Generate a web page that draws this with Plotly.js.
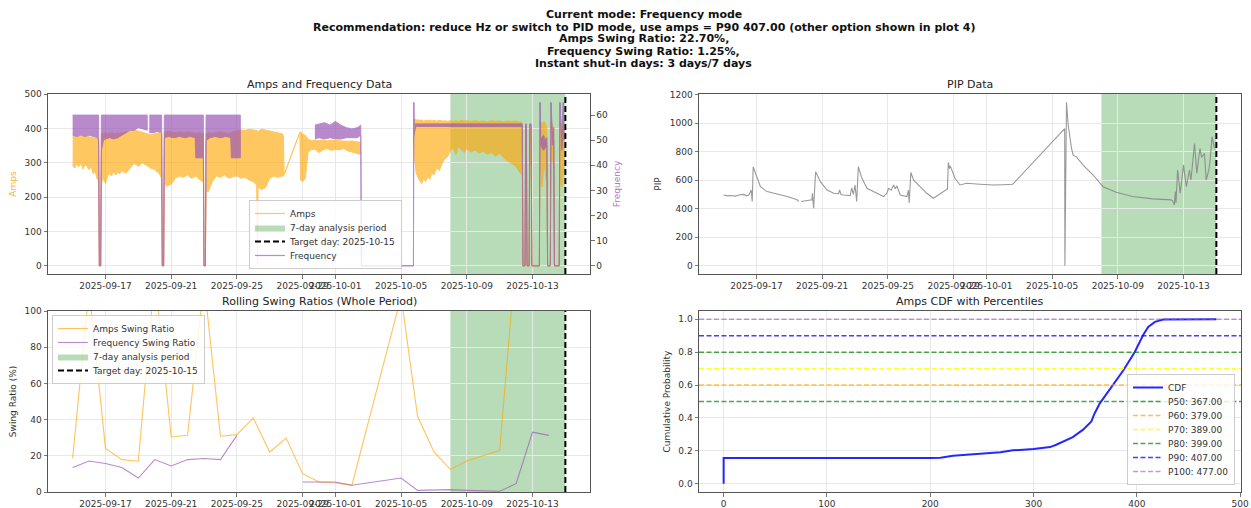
<!DOCTYPE html>
<html><head><meta charset="utf-8">
<script src="https://cdn.plot.ly/plotly-3.0.1.min.js"></script>
<style>html,body{margin:0;padding:0;background:#fff}#chart{width:1251px;height:508px}</style>
</head><body><div id="chart"></div>
<script>
// ---------------- DATA ----------------
const YEAR = '2025';
const titleLines = [
  'Current mode: Frequency mode',
  'Recommendation: reduce Hz or switch to PID mode, use amps = P90 407.00 (other option shown in plot 4)',
  'Amps Swing Ratio: 22.70%,',
  'Frequency Swing Ratio: 1.25%,',
  'Instant shut-in days: 3 days/7 days'
];
const subplotTitles = ['Amps and Frequency Data', 'PIP Data', 'Rolling Swing Ratios (Whole Period)', 'Amps CDF with Percentiles'];
const periodStart = '2025-10-08';
const periodEnd = '2025-10-15';
const targetDay = '2025-10-15';
const dateTickVals = ['2025-09-17','2025-09-21','2025-09-25','2025-09-29','2025-10-01','2025-10-05','2025-10-09','2025-10-13'];

// Amps (dense series read as upper / lower envelope; null = gap)
const ampsTime = ['09-15 00:00','09-15 03:00','09-15 06:00','09-15 09:00','09-15 12:00','09-15 15:00','09-15 18:00','09-15 21:00','09-16 00:00','09-16 03:00','09-16 06:00','09-16 09:00','09-16 12:00','09-16 14:00','09-16 15:00','09-16 17:00','09-16 18:00','09-16 21:00','09-17 00:00','09-17 03:00','09-17 06:00','09-17 09:00','09-17 12:00','09-17 15:00','09-17 18:00','09-17 21:00','09-18 00:00','09-18 06:00','09-18 12:00','09-18 18:00','09-19 00:00','09-19 06:00','09-19 12:00','09-19 18:00','09-20 00:00','09-20 06:00','09-20 10:00','09-20 11:00','09-20 13:00','09-20 14:00','09-20 18:00','09-21 00:00','09-21 06:00','09-21 12:00','09-21 18:00','09-22 00:00','09-22 06:00','09-22 12:00','09-22 18:00','09-22 23:00','09-23 00:00','09-23 02:00','09-23 03:00','09-23 06:00','09-23 12:00','09-23 18:00','09-24 00:00','09-24 06:00','09-24 12:00','09-24 18:00','09-25 00:00','09-25 06:00','09-25 12:00','09-25 18:00','09-26 00:00','09-26 05:00','09-26 06:00','09-26 07:00','09-26 12:00','09-26 18:00','09-27 00:00','09-27 06:00','09-27 12:00','09-27 18:00','09-27 20:00','09-27 21:00','09-28 20:00','09-28 21:00','09-29 00:00','09-29 04:00','09-29 08:00','09-29 12:00','09-29 18:00','09-30 00:00','09-30 06:00','09-30 12:00','09-30 18:00','10-01 00:00','10-01 06:00','10-01 12:00','10-01 18:00','10-02 00:00','10-02 06:00','10-02 12:00',
  null,
  '10-05 18:00','10-05 20:00','10-05 22:00','10-06 00:00','10-06 03:00','10-06 06:00','10-06 09:00','10-06 12:00','10-06 15:00','10-06 18:00','10-06 21:00','10-07 00:00','10-07 04:00','10-07 08:00','10-07 12:00','10-07 16:00','10-07 20:00','10-08 00:00','10-08 04:00','10-08 08:00','10-08 12:00','10-08 16:00','10-08 20:00','10-09 00:00','10-09 06:00','10-09 12:00','10-09 18:00','10-10 00:00','10-10 06:00','10-10 12:00','10-10 18:00','10-11 00:00','10-11 06:00','10-11 12:00','10-11 18:00','10-12 00:00','10-12 04:00','10-12 08:00','10-12 09:00','10-12 10:00','10-12 13:00','10-12 14:00','10-12 15:00','10-12 16:00','10-12 19:00','10-12 20:00','10-12 22:00','10-12 23:00','10-13 10:00','10-13 11:00','10-13 14:00','10-13 17:00','10-13 20:00','10-13 21:00','10-13 22:00','10-14 02:00','10-14 03:00','10-14 05:00','10-14 07:00','10-14 08:00','10-14 15:00','10-14 16:00','10-14 19:00','10-14 22:00'];
const ampsHigh = [376,378,375,377,376,378,375,377,376,375,374,372,370,368,0,0,385,386,388,385,386,388,386,385,388,386,388,390,392,395,393,390,385,382,385,388,385,0,0,390,392,390,388,390,388,390,388,386,388,385,0,0,385,388,386,388,390,388,385,390,392,396,395,398,396,395,390,392,398,395,392,390,388,385,380,265,389,390,385,380,370,365,366,365,367,364,366,365,364,365,363,364,362,360,
  null,
  410,428,425,426,424,425,422,424,423,425,422,424,422,424,422,423,421,423,421,423,421,424,422,423,421,423,421,422,420,423,421,422,420,422,421,422,420,419,415,0,0,410,405,0,0,410,400,0,0,420,415,420,410,400,0,0,420,410,400,0,0,420,410,405];
const ampsLow = [292,285,298,288,300,282,295,290,280,290,268,275,252,262,0,0,240,255,240,262,270,262,275,265,272,268,278,270,285,298,290,300,292,285,280,270,256,0,0,240,232,238,255,262,258,265,255,262,250,245,0,0,220,215,245,262,258,265,255,260,262,255,258,250,245,235,5,230,222,228,255,262,258,262,262,265,389,250,245,255,330,338,340,330,338,342,336,340,338,342,335,332,328,325,
  null,
  380,310,270,265,248,240,255,245,260,252,270,265,285,278,300,312,318,335,345,325,350,338,330,342,332,338,328,335,325,330,320,328,315,305,298,290,275,268,265,0,0,300,290,0,0,300,290,0,0,320,230,300,250,300,0,0,300,320,280,0,0,260,230,300];

// Frequency (upper / lower envelope; null = gap)
const freqTime = ['09-15 00:00','09-15 06:00','09-15 12:00','09-15 18:00','09-16 00:00','09-16 06:00','09-16 12:00','09-16 14:00','09-16 15:00','09-16 17:00','09-16 18:00','09-16 21:00','09-17 00:00','09-17 06:00','09-17 12:00','09-17 18:00','09-18 00:00','09-18 06:00','09-18 12:00','09-18 18:00','09-19 00:00','09-19 06:00','09-19 13:00',
  null,
  '09-19 16:00','09-19 22:00','09-20 04:00','09-20 10:00','09-20 11:00','09-20 13:00','09-20 14:00','09-20 20:00','09-21 04:00','09-21 12:00','09-21 20:00','09-22 04:00','09-22 11:00','09-22 12:00','09-22 23:00','09-23 00:00','09-23 02:00','09-23 03:00','09-23 09:00','09-23 16:00','09-24 00:00','09-24 08:00','09-24 15:00','09-24 16:00','09-25 05:00',
  null,
  '09-29 18:00','09-30 00:00','09-30 08:00','09-30 16:00','10-01 00:00','10-01 08:00','10-01 16:00','10-02 00:00','10-02 08:00','10-02 13:00','10-02 14:00','10-05 18:00','10-05 18:30','10-05 19:00','10-05 21:00','10-12 09:00','10-12 10:00','10-12 13:00','10-12 14:00','10-12 15:00','10-12 16:00','10-12 19:00','10-12 20:00','10-12 22:00','10-12 23:00','10-13 10:00','10-13 11:00','10-13 12:00','10-13 16:00','10-13 19:00','10-13 21:00','10-13 22:00','10-14 02:00','10-14 03:00','10-14 05:00','10-14 07:00','10-14 08:00','10-14 15:00','10-14 16:00','10-14 19:00','10-14 21:00','10-14 22:00'];
const freqHigh = [60,60,60,60,60,60,60,60,0,0,60,60,60,60,60,60,60,60,60,60,60,60,60,
  null,
  60,60,60,60,0,0,60,60,60,60,60,60,60,60,60,0,0,60,60,60,60,60,60,60,60,
  null,
  56,56.5,57,56,57.5,56,55,54.5,55,56,0,0,65,52,56.5,56.5,0,0,56.5,56.5,0,0,56.5,56.5,0,0,65,50,52,50,51,0,0,65,52,55,0,0,65,48,65,52];
const freqLow = [52,51.5,52,51.5,52,51.5,51,50,0,0,46,50,50.5,51,50.5,51,52,53,54,54,55,54.5,54,
  null,
  53,53,53.5,53,0,0,51,51.5,51,51.5,51,51.5,51,43,43,0,0,50,51,51.5,51,51.5,51,43,43,
  null,
  50.5,51,50.5,51,50.5,50.5,51,51,51,52,0,0,65,52,55.5,55.5,0,0,55.5,55.5,0,0,55.5,55.5,0,0,65,48,46,47,48,0,0,65,48,50,0,0,65,46,65,50];

// PIP
const pipTime = ['09-15 00:00','09-15 05:00','09-15 10:00','09-15 17:00','09-16 00:00','09-16 05:30','09-16 09:30','09-16 12:45','09-16 16:20','09-16 17:45','09-16 19:10','09-17 01:00','09-17 05:45','09-17 15:30','09-18 06:15','09-18 21:00','09-19 11:15','09-19 13:40',
  null,
  '09-19 17:15','09-20 02:00','09-20 09:00','09-20 09:40','09-20 11:30','09-20 14:25','09-20 21:20','09-21 07:10','09-21 16:50','09-22 00:00','09-22 01:25','09-22 03:35','09-22 07:10','09-22 16:50','09-22 19:10','09-22 21:35','09-23 00:00','09-23 02:25','09-23 04:50','09-23 10:05','09-23 17:30','09-24 08:00','09-24 17:45','09-24 22:30','09-25 01:00','09-25 04:50','09-25 08:25','09-25 10:50','09-25 13:10','09-25 18:00','09-26 03:50','09-26 06:00','09-26 07:10','09-26 09:35','09-26 13:25','09-26 23:00','09-27 08:50','09-27 18:30','09-28 15:00','09-28 16:20','09-28 18:00','09-28 19:10','09-28 21:10','09-29 02:00','09-29 09:20','09-29 19:10','09-30 14:25','10-01 09:35','10-02 00:00','10-02 14:25','10-05 18:20','10-05 18:40','10-05 21:00','10-05 23:30','10-06 04:20','10-06 06:45','10-06 11:30','10-06 21:20','10-07 12:00','10-08 02:25','10-08 21:35','10-09 21:35','10-11 03:00','10-12 05:45','10-12 08:00','10-12 10:35','10-12 12:00','10-12 13:00','10-12 15:20','10-12 19:10','10-13 00:00','10-13 04:05','10-13 08:40','10-13 10:50','10-13 16:05','10-13 19:25','10-14 00:00','10-14 02:25','10-14 06:40','10-14 09:05','10-14 13:00','10-14 14:25','10-14 17:45','10-14 21:10'];
const pipValues = [496,490,492,488,498,500,490,496,531,450,694,613,554,520,503,485,462,450,
  null,
  450,457,462,508,404,659,589,531,508,505,531,500,496,492,545,500,566,450,694,613,543,508,485,508,543,530,566,540,560,496,485,531,440,654,601,554,508,473,538,724,680,700,671,613,566,578,571,566,568,571,961,0,1146,984,822,775,763,705,636,554,515,485,469,462,455,427,520,440,671,508,705,554,671,601,857,648,822,760,787,601,671,720,903,822];

// Rolling swing ratios (daily)
const swingDates = ['2025-09-15','2025-09-16','2025-09-17','2025-09-18','2025-09-19','2025-09-20','2025-09-21','2025-09-22','2025-09-23','2025-09-24','2025-09-25','2025-09-26','2025-09-27','2025-09-28','2025-09-29','2025-09-30','2025-10-01','2025-10-02','2025-10-05','2025-10-06','2025-10-07','2025-10-08','2025-10-09','2025-10-10','2025-10-11','2025-10-12','2025-10-13','2025-10-14'];
const ampsSwing = [18.6,112,24.1,17.9,17.0,120,30.4,31.3,116,30.8,31.7,40.9,22.1,29.8,10.1,5.5,5.0,3.7,108,41.8,22.1,12.5,17.1,20.0,23.0,131,180,160];
const freqSwing = [13.5,17.1,15.7,13.5,7.7,17.9,14.4,17.9,18.5,17.9,31.3,null,null,null,5.5,5.5,5.5,3.7,7.7,0.9,1.3,1.3,0.9,0.6,0.4,4.6,33.1,31.3];

// Amps CDF
const cdfAmps = [0,0,200,210,222,242,268,280,300,316,322,338,348,356,359,364,371,377,387,398,406,411,417.5,425.6,477];
const cdfProb = [0,0.156,0.157,0.158,0.170,0.178,0.192,0.203,0.211,0.223,0.237,0.284,0.329,0.379,0.426,0.487,0.548,0.598,0.690,0.801,0.903,0.953,0.984,0.998,1.0];
const pctLevels = [0.5,0.6,0.7,0.8,0.9,1.0];
const pctNames = ['P50','P60','P70','P80','P90','P100'];
const pctValues = [367,379,389,399,407,477];

// ---------------- STYLE ----------------
const FONT = 'DejaVu Sans, Liberation Sans, sans-serif';
const pctColors = ['rgba(0,128,0,0.7)','rgba(255,165,0,0.7)','rgba(255,255,0,0.85)','rgba(0,128,0,0.7)','rgba(0,0,255,0.75)','rgba(155,89,182,0.6)'];
const AMPS_C = '#FFA500', FREQ_C = '#9b59b6', SPAN_C = 'rgba(0,128,0,0.28)';
const X_RANGE = ['2025-09-13 12:00', '2025-10-16 12:00'];
const W = 1251, H = 508;
const L = [48/W, 590/W], R = [699/W, 1241/W];
const TOP = [1-274/H, 1-94/H], BOT = [1-492/H, 1-311/H];

const T = s => (s === null ? null : YEAR + '-' + s);

function band(times, hi, lo) {
  const xs = [], ys = [];
  let seg = [];
  const flush = () => {
    if (!seg.length) return;
    if (xs.length) { xs.push(null); ys.push(null); }
    seg.forEach(i => { xs.push(T(times[i])); ys.push(hi[i]); });
    for (let k = seg.length - 1; k >= 0; k--) { const i = seg[k]; xs.push(T(times[i])); ys.push(lo[i]); }
    seg = [];
  };
  times.forEach((t, i) => { if (t === null) flush(); else seg.push(i); });
  flush();
  return {xs, ys};
}

const ampsBand = band(ampsTime, ampsHigh, ampsLow);
const freqBand = band(freqTime, freqHigh, freqLow);

const dummy = (o) => Object.assign({type:'scatter', mode:'lines', x:[null], y:[null], hoverinfo:'skip'}, o);

const data = [
  // top-left
  {type:'scatter', mode:'lines', x:ampsBand.xs, y:ampsBand.ys, fill:'toself', fillcolor:AMPS_C,
   line:{color:AMPS_C, width:1}, opacity:0.62, xaxis:'x', yaxis:'y', showlegend:false, hoverinfo:'skip'},
  {type:'scatter', mode:'lines', x:freqBand.xs, y:freqBand.ys, fill:'toself', fillcolor:FREQ_C,
   line:{color:FREQ_C, width:1}, opacity:0.7, xaxis:'x', yaxis:'y2', showlegend:false, hoverinfo:'skip'},
  dummy({name:'Amps', line:{color:AMPS_C, width:1.2}, opacity:0.62, xaxis:'x', yaxis:'y', legend:'legend', legendrank:1}),
  dummy({name:'7-day analysis period', fill:'toself', fillcolor:SPAN_C, line:{width:0}, xaxis:'x', yaxis:'y', legend:'legend', legendrank:2}),
  dummy({name:'Target day: 2025-10-15', line:{color:'black', width:2, dash:'6px,3px'}, xaxis:'x', yaxis:'y', legend:'legend', legendrank:3}),
  dummy({name:'Frequency', line:{color:FREQ_C, width:1.2}, opacity:0.7, xaxis:'x', yaxis:'y', legend:'legend', legendrank:4}),
  // top-right
  {type:'scatter', mode:'lines', x:pipTime.map(T), y:pipValues, line:{color:'rgba(128,128,128,0.8)', width:1.1},
   xaxis:'x2', yaxis:'y3', showlegend:false, hoverinfo:'skip'},
  // bottom-left
  {type:'scatter', mode:'lines', name:'Amps Swing Ratio', x:swingDates, y:ampsSwing, line:{color:AMPS_C, width:1.1}, opacity:0.65,
   xaxis:'x3', yaxis:'y4', legend:'legend2', legendrank:1},
  {type:'scatter', mode:'lines', name:'Frequency Swing Ratio', x:swingDates, y:freqSwing, line:{color:FREQ_C, width:1.1}, opacity:0.7,
   xaxis:'x3', yaxis:'y4', legend:'legend2', legendrank:2},
  dummy({name:'7-day analysis period', fill:'toself', fillcolor:SPAN_C, line:{width:0}, xaxis:'x3', yaxis:'y4', legend:'legend2', legendrank:3}),
  dummy({name:'Target day: 2025-10-15', line:{color:'black', width:2, dash:'6px,3px'}, xaxis:'x3', yaxis:'y4', legend:'legend2', legendrank:4}),
  // bottom-right
  {type:'scatter', mode:'lines', name:'CDF', x:cdfAmps, y:cdfProb, line:{color:'rgba(0,0,255,0.85)', width:2},
   xaxis:'x4', yaxis:'y5', legend:'legend3', legendrank:1}
];
pctLevels.forEach((p, i) => {
  data.push(dummy({name: pctNames[i] + ': ' + pctValues[i].toFixed(2), line:{color:pctColors[i], width:1.5, dash:'5px,2.5px'},
    xaxis:'x4', yaxis:'y5', legend:'legend3', legendrank:2+i}));
});

const shapes = [];
[['x','y domain'],['x2','y3 domain'],['x3','y4 domain']].forEach(([xr, yr]) => {
  shapes.push({type:'rect', xref:xr, yref:yr, x0:periodStart, x1:periodEnd, y0:0, y1:1, fillcolor:SPAN_C, line:{width:0}, layer:'below'});
  shapes.push({type:'line', xref:xr, yref:yr, x0:targetDay, x1:targetDay, y0:0, y1:1, line:{color:'black', width:2, dash:'6px,3px'}, layer:'above'});
});
pctLevels.forEach((p, i) => {
  shapes.push({type:'line', xref:'x4 domain', yref:'y5', x0:0, x1:1, y0:p, y1:p, line:{color:pctColors[i], width:1.5, dash:'5px,2.5px'}, layer:'above'});
});

function ax(extra) {
  return Object.assign({showline:true, mirror:true, linecolor:'#555', linewidth:1, ticks:'outside', ticklen:3.5, tickwidth:0.8,
    tickcolor:'#555', tickfont:{family:FONT, size:9, color:'#333'}, showgrid:true, gridcolor:'#e8e8e8', gridwidth:1,
    zeroline:false, automargin:false, fixedrange:true, tickangle:0}, extra);
}
const dateAx = (domain, anchor) => ax({domain, anchor, type:'date', range:X_RANGE, tickmode:'array', tickvals:dateTickVals, ticktext:dateTickVals});
const axTitle = (text, color) => ({text, font:{family:FONT, size:9, color}, standoff:6});

const annotations = [];
titleLines.forEach((t, i) => annotations.push({text:'<b>' + t + '</b>', xref:'paper', yref:'paper', x:644/W, y:1-(15+12*i)/H,
  xanchor:'center', yanchor:'middle', showarrow:false, font:{family:FONT, size:11, color:'#111'}}));
[[319,84],[970,84],[319,301],[970,301]].forEach(([cx, cy], i) => annotations.push({text:subplotTitles[i], xref:'paper', yref:'paper',
  x:cx/W, y:1-cy/H, xanchor:'center', yanchor:'middle', showarrow:false, font:{family:FONT, size:11, color:'#222'}}));

const legendBase = {bgcolor:'rgba(255,255,255,0.8)', bordercolor:'#cccccc', borderwidth:1, font:{family:FONT, size:9, color:'#333'}, itemwidth:30, tracegroupgap:0};

const layout = {
  width:W, height:H, margin:{l:0, r:0, t:0, b:0}, paper_bgcolor:'#fff', plot_bgcolor:'#fff',
  font:{family:FONT, size:9, color:'#333'}, showlegend:true, hovermode:false,
  xaxis: dateAx(L, 'y'),
  yaxis: ax({domain:TOP, anchor:'x', range:[-23.85, 500.85], tickmode:'array', tickvals:[0,100,200,300,400,500], title:axTitle('Amps', '#f5b342')}),
  yaxis2: {overlaying:'y', side:'right', anchor:'x', range:[-3.26, 68.4], tickmode:'array', tickvals:[0,10,20,30,40,50,60],
    ticks:'outside', ticklen:3.5, tickwidth:0.8, tickcolor:'#555', tickfont:{family:FONT, size:9, color:'#333'}, showgrid:false,
    zeroline:false, showline:false, automargin:false, fixedrange:true, title:axTitle('Frequency', '#b574c7')},
  xaxis2: dateAx(R, 'y3'),
  yaxis3: ax({domain:TOP, anchor:'x2', range:[-57.3, 1203.3], tickmode:'array', tickvals:[0,200,400,600,800,1000,1200], title:axTitle('PIP', '#333')}),
  xaxis3: dateAx(L, 'y4'),
  yaxis4: ax({domain:BOT, anchor:'x3', range:[0, 100], tickmode:'array', tickvals:[0,20,40,60,80,100], title:axTitle('Swing Ratio (%)', '#333')}),
  xaxis4: ax({domain:R, anchor:'y5', range:[-23.85, 500.85], tickmode:'array', tickvals:[0,100,200,300,400,500]}),
  yaxis5: ax({domain:BOT, anchor:'x4', range:[-0.05, 1.05], tickmode:'array', tickvals:[0,0.2,0.4,0.6,0.8,1.0], tickformat:'.1f', title:axTitle('Cumulative Probability', '#333')}),
  legend: Object.assign({}, legendBase, {x:249/W, y:1-269/H, xanchor:'left', yanchor:'bottom'}),
  legend2: Object.assign({}, legendBase, {x:52/W, y:1-315/H, xanchor:'left', yanchor:'top'}),
  legend3: Object.assign({}, legendBase, {x:1235/W, y:1-485/H, xanchor:'right', yanchor:'bottom'}),
  shapes, annotations
};

const gd = document.getElementById('chart');

function parseT(s) {
  const m = /translate\(\s*([-\d.e]+)[ ,]+([-\d.e]+)\s*\)/.exec(s || '');
  return m ? [parseFloat(m[1]), parseFloat(m[2])] : [0, 0];
}
function compressLegends() {
  const STEP = 14;
  [['legend', true], ['legend2', false], ['legend3', true]].forEach(([cls, bottom]) => {
    try {
      const lg = gd.querySelector('g.' + cls);
      if (!lg) return;
      const items = Array.from(lg.querySelectorAll('g.traces'));
      if (items.length < 2) return;
      const pos = items.map(it => parseT(it.getAttribute('transform')));
      const orig = pos[1][1] - pos[0][1];
      if (!(orig > STEP)) return;
      const shrink = (orig - STEP) * (items.length - 1);
      items.forEach((it, i) => it.setAttribute('transform', 'translate(' + pos[i][0] + ',' + (pos[0][1] - 2 + i * STEP) + ')'));
      const bg = lg.querySelector('rect.bg');
      if (bg) bg.setAttribute('height', parseFloat(bg.getAttribute('height')) - shrink - 4);
      if (bottom) { const p = parseT(lg.getAttribute('transform')); lg.setAttribute('transform', 'translate(' + p[0] + ',' + (p[1] + shrink + 4) + ')'); }
    } catch (e) {}
  });
}

Plotly.newPlot(gd, data, layout, {displayModeBar:false, staticPlot:true}).then(compressLegends);
</script>
</body></html>
